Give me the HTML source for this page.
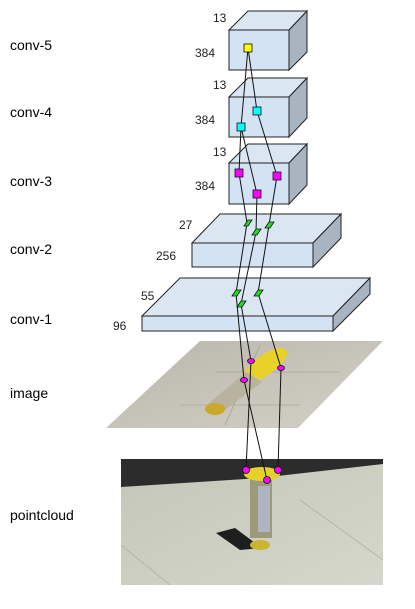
<!DOCTYPE html>
<html><head><meta charset="utf-8"><style>
body{margin:0;background:#fff;}
svg{display:block;font-family:"Liberation Sans",Arial,sans-serif;}
</style></head><body>
<svg width="415" height="609" viewBox="0 0 415 609">
<defs>
<linearGradient id="floor" x1="0" y1="0" x2="1" y2="1"><stop offset="0" stop-color="#b9b6ac"/><stop offset="1" stop-color="#d3d1c6"/></linearGradient>
<linearGradient id="pc" x1="0" y1="0" x2="1" y2="1"><stop offset="0" stop-color="#c4c6b8"/><stop offset="1" stop-color="#d6d7cc"/></linearGradient>
</defs>
<g font-size="14" fill="#000">
<text x="10" y="50">conv-5</text>
<text x="10" y="117">conv-4</text>
<text x="10" y="186">conv-3</text>
<text x="10" y="254">conv-2</text>
<text x="10" y="324">conv-1</text>
<text x="10" y="398">image</text>
<text x="10" y="520">pointcloud</text>
</g>
<g font-size="12" fill="#222">
<text x="213" y="22">13</text><text x="195" y="57">384</text>
<text x="213" y="89">13</text><text x="195" y="124">384</text>
<text x="213" y="156">13</text><text x="195" y="190">384</text>
<text x="179" y="229">27</text><text x="156" y="260">256</text>
<text x="141" y="300">55</text><text x="113" y="330">96</text>
</g>
<g stroke="#222" stroke-width="1">
<g>
<polygon points="229,30 248,11 307,11 289,30" fill="#dbe6f3"/><polygon points="289,30 307,11 307,52 289,70" fill="#a8b4c0"/><rect x="229" y="30" width="60" height="40" fill="#d4e3f3"/></g>
<g>
<polygon points="229,97 248,78 307,78 289,97" fill="#dbe6f3"/><polygon points="289,97 307,78 307,118 289,137" fill="#a8b4c0"/><rect x="229" y="97" width="60" height="40" fill="#d4e3f3"/></g>
<g>
<polygon points="229,163 248,144 307,144 289,163" fill="#dbe6f3"/><polygon points="289,163 307,144 307,185 289,204" fill="#a8b4c0"/><rect x="229" y="163" width="60" height="41" fill="#d4e3f3"/></g>
<g>
<polygon points="192,243 220,214 341,214 313,243" fill="#dbe6f3"/><polygon points="313,243 341,214 341,238 313,267" fill="#a8b4c0"/><rect x="192" y="243" width="121" height="24" fill="#d4e3f3"/></g>
<g>
<polygon points="142,316 180,278 370,278 333,316" fill="#dbe6f3"/><polygon points="333,316 370,278 370,294 333,331" fill="#a8b4c0"/><rect x="142" y="316" width="191" height="15" fill="#d4e3f3"/></g>
</g>
<g>
<polygon points="200,341 383,341 298,428 106,428" fill="url(#floor)"/>
<path d="M215,372 L340,372 M180,405 L300,405 M260,345 L225,425" stroke="#9a988f" stroke-width="0.6" fill="none"/>
<ellipse cx="265" cy="365" rx="26" ry="10" transform="rotate(-35 265 365)" fill="#e8d22a"/>
<polygon points="246,372 262,382 222,412 208,404" fill="#b8b2a0"/>
<ellipse cx="215" cy="409" rx="10" ry="6" fill="#c9a82a"/>
</g>
<g>
<rect x="121" y="459" width="262" height="126" fill="url(#pc)"/>
<polygon points="121,459 383,459 383,464 260,478 121,487" fill="#2c2c2c"/>
<path d="M121,545 L170,585 M300,500 L383,560" stroke="#a6a89a" stroke-width="0.6" fill="none"/>
<rect x="250" y="478" width="22" height="60" fill="#9c9a78"/>
<ellipse cx="262" cy="474" rx="18" ry="7" fill="#e4d228"/>
<rect x="258" y="486" width="12" height="46" fill="#b0b4c0"/>
<polygon points="216,533 235,528 262,548 240,550" fill="#1e1e1e"/>
<ellipse cx="260" cy="545" rx="10" ry="5" fill="#c8b630"/>
</g>
<g stroke="#111" stroke-width="1" fill="none">
<polyline points="248,48 241,127 239,173 247,223 236,293 244,380 267,480"/>
<polyline points="248,48 257,111 277,176 269,225 258,293 281,368 278,470"/>
<polyline points="241,127 257,194 256,232 241,304 251,361 246,470"/>
</g>
<g stroke="#111" stroke-width="0.8">
<rect x="244" y="44" width="8" height="8" fill="#ffff00"/>
<rect x="253" y="107" width="8" height="8" fill="#00ffff"/>
<rect x="237" y="123" width="8" height="8" fill="#00ffff"/>
<rect x="235" y="169" width="8" height="8" fill="#ff00ff"/>
<rect x="253" y="190" width="8" height="8" fill="#ff00ff"/>
<rect x="273" y="172" width="8" height="8" fill="#ff00ff"/>
<polygon points="244,226 248,220 252,220 248,226" fill="#22dd22"/>
<polygon points="252,235 256,229 261,229 257,235" fill="#22dd22"/>
<polygon points="265,228 269,222 274,222 270,228" fill="#22dd22"/>
<polygon points="232,296 236,290 241,290 237,296" fill="#22dd22"/>
<polygon points="237,307 241,301 246,301 242,307" fill="#22dd22"/>
<polygon points="254,296 258,290 263,290 259,296" fill="#22dd22"/>
<ellipse cx="251" cy="361" rx="3.5" ry="2.5" fill="#ff00ff"/>
<ellipse cx="244" cy="380" rx="3.5" ry="2.5" fill="#ff00ff"/>
<ellipse cx="281" cy="368" rx="3.5" ry="2.5" fill="#ff00ff"/>
<circle cx="246" cy="470" r="3.5" fill="#ff00ff"/>
<circle cx="267" cy="480" r="3.5" fill="#ff00ff"/>
<circle cx="278" cy="470" r="3.5" fill="#ff00ff"/>
</g>
</svg>
</body></html>
